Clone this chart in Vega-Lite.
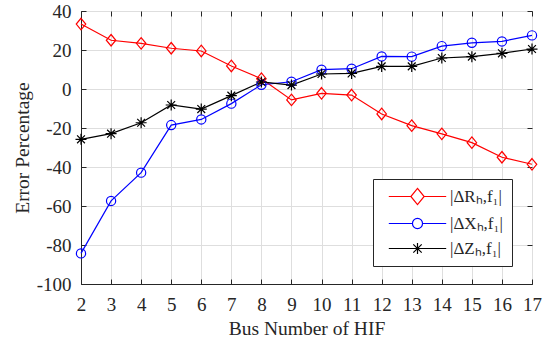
{
  "$schema": "https://vega.github.io/schema/vega-lite/v6.json",
  "width": 451,
  "height": 273,
  "autosize": "none",
  "padding": {"left": 81, "top": 11, "right": 16, "bottom": 57},
  "background": "white",
  "config": {
    "font": "Liberation Serif",
    "view": {"stroke": "#262626", "strokeWidth": 1},
    "axis": {
      "domainColor": "#262626",
      "domainWidth": 1,
      "ticks": true,
      "tickColor": "#262626",
      "tickSize": -5,
      "tickWidth": 1,
      "tickOpacity": 1,
      "labelFlush": false,
      "labelFont": "Liberation Serif",
      "labelFontSize": 19,
      "labelColor": "#262626",
      "labelExpr": "replace(datum.label, '−', '-')",
      "gridColor": "#dedede",
      "gridWidth": 1,
      "titleFont": "Liberation Serif",
      "titleFontSize": 19.5,
      "titleFontWeight": "normal",
      "titleColor": "#262626"
    },
    "legend": {
      "labelFont": "Liberation Serif",
      "labelFontSize": 17,
      "labelColor": "#262626"
    }
  },
  "data": {
    "values": [
      {"bus": 2, "series": "R", "value": 33.3},
      {"bus": 3, "series": "R", "value": 25.0},
      {"bus": 4, "series": "R", "value": 23.4},
      {"bus": 5, "series": "R", "value": 20.9},
      {"bus": 6, "series": "R", "value": 19.5},
      {"bus": 7, "series": "R", "value": 11.8},
      {"bus": 8, "series": "R", "value": 5.3},
      {"bus": 9, "series": "R", "value": -5.6},
      {"bus": 10, "series": "R", "value": -2.2},
      {"bus": 11, "series": "R", "value": -3.1},
      {"bus": 12, "series": "R", "value": -12.8},
      {"bus": 13, "series": "R", "value": -18.8},
      {"bus": 14, "series": "R", "value": -23.0},
      {"bus": 15, "series": "R", "value": -27.5},
      {"bus": 16, "series": "R", "value": -35.0},
      {"bus": 17, "series": "R", "value": -38.6},
      {"bus": 2, "series": "X", "value": -84.3},
      {"bus": 3, "series": "X", "value": -57.4},
      {"bus": 4, "series": "X", "value": -42.9},
      {"bus": 5, "series": "X", "value": -18.5},
      {"bus": 6, "series": "X", "value": -15.6},
      {"bus": 7, "series": "X", "value": -7.5},
      {"bus": 8, "series": "X", "value": 2.2},
      {"bus": 9, "series": "X", "value": 3.7},
      {"bus": 10, "series": "X", "value": 9.9},
      {"bus": 11, "series": "X", "value": 10.4},
      {"bus": 12, "series": "X", "value": 16.7},
      {"bus": 13, "series": "X", "value": 16.6},
      {"bus": 14, "series": "X", "value": 22.0},
      {"bus": 15, "series": "X", "value": 23.7},
      {"bus": 16, "series": "X", "value": 24.4},
      {"bus": 17, "series": "X", "value": 27.5},
      {"bus": 2, "series": "Z", "value": -25.8},
      {"bus": 3, "series": "Z", "value": -22.9},
      {"bus": 4, "series": "Z", "value": -17.3},
      {"bus": 5, "series": "Z", "value": -8.2},
      {"bus": 6, "series": "Z", "value": -10.3},
      {"bus": 7, "series": "Z", "value": -3.4},
      {"bus": 8, "series": "Z", "value": 3.6},
      {"bus": 9, "series": "Z", "value": 2.0},
      {"bus": 10, "series": "Z", "value": 7.7},
      {"bus": 11, "series": "Z", "value": 8.0},
      {"bus": 12, "series": "Z", "value": 11.6},
      {"bus": 13, "series": "Z", "value": 11.6},
      {"bus": 14, "series": "Z", "value": 15.9},
      {"bus": 15, "series": "Z", "value": 16.6},
      {"bus": 16, "series": "Z", "value": 18.3},
      {"bus": 17, "series": "Z", "value": 20.5}
    ]
  },
  "layer": [
    {
      "mark": {"type": "line", "strokeWidth": 1.2},
      "encoding": {
        "x": {
          "field": "bus", "type": "quantitative",
          "scale": {"domain": [2, 17], "nice": false, "zero": false},
          "axis": {"orient": "bottom", "values": [2,3,4,5,6,7,8,9,10,11,12,13,14,15,16,17], "format": "d", "title": "Bus Number of HIF", "titlePadding": 5, "labelPadding": 16, "ticks": true, "tickSize": -5}
        },
        "y": {
          "field": "value", "type": "quantitative",
          "scale": {"domain": [-100, 40], "nice": false, "zero": false},
          "axis": {"orient": "left", "values": [-100,-80,-60,-40,-20,0,20,40], "title": "Error Percentage", "titlePadding": 4, "labelPadding": 15, "ticks": true, "tickSize": -5}
        },
        "color": {
          "field": "series", "type": "nominal",
          "scale": {"domain": ["R", "X", "Z"], "range": ["#ff0000", "#0000ff", "#000000"]},
          "legend": {
            "title": null,
            "orient": "none",
            "legendX": 292,
            "legendY": 168,
            "strokeColor": "#262626",
            "fillColor": "white",
            "padding": 9,
            "rowPadding": 7,
            "symbolSize": 196,
            "symbolStrokeWidth": 1.2,
            "symbolType": "M-4.1,0L4.1,0",
            "symbolOffset": 27,
            "labelOffset": 24,
            "labelExpr": "datum.value === 'R' ? '|ΔRₕ,f₁|' : datum.value === 'X' ? '|ΔXₕ,f₁|' : '|ΔZₕ,f₁|'",
            "encode": {
              "symbols": {"update": {
                "shape": {"signal": "datum.value === 'R' ? 'M-4.1,0L-0.95,0M0.95,0L4.1,0M0,-1.15L0.95,0L0,1.15L-0.95,0Z' : datum.value === 'X' ? 'M-4.1,0L-0.72,0M0.72,0L4.1,0M-0.72,0C-0.72,-0.4 -0.4,-0.72 0,-0.72C0.4,-0.72 0.72,-0.4 0.72,0C0.72,0.4 0.4,0.72 0,0.72C-0.4,0.72 -0.72,0.4 -0.72,0Z' : 'M-4.1,0L4.1,0M0,-0.8L0,0.8M-0.6,-0.6L0.6,0.6M-0.6,0.6L0.6,-0.6'"},
                "fill": {"value": "transparent"}
              }}
            }
          }
        }
      }
    },
    {
      "transform": [{"filter": "datum.series === 'R'"}],
      "mark": {"type": "point", "shape": "M0,-1.15L0.95,0L0,1.15L-0.95,0Z", "size": 100, "filled": false, "strokeWidth": 1.2, "color": "#ff0000", "opacity": 1},
      "encoding": {
        "x": {"field": "bus", "type": "quantitative", "axis": null},
        "y": {"field": "value", "type": "quantitative", "axis": null}
      }
    },
    {
      "transform": [{"filter": "datum.series === 'X'"}],
      "mark": {"type": "point", "shape": "circle", "size": 85, "filled": false, "strokeWidth": 1.2, "color": "#0000ff", "opacity": 1},
      "encoding": {
        "x": {"field": "bus", "type": "quantitative", "axis": null},
        "y": {"field": "value", "type": "quantitative", "axis": null}
      }
    },
    {
      "transform": [{"filter": "datum.series === 'Z'"}],
      "mark": {"type": "point", "shape": "M-1.1,0L1.1,0M0,-1.1L0,1.1M-0.78,-0.78L0.78,0.78M-0.78,0.78L0.78,-0.78", "size": 100, "filled": false, "strokeWidth": 1.2, "color": "#000000", "opacity": 1},
      "encoding": {
        "x": {"field": "bus", "type": "quantitative", "axis": null},
        "y": {"field": "value", "type": "quantitative", "axis": null}
      }
    },
    {
      "mark": {"type": "rule", "strokeWidth": 0},
      "encoding": {
        "x": {"field": "bus", "type": "quantitative", "axis": {"orient": "top", "values": [2,3,4,5,6,7,8,9,10,11,12,13,14,15,16,17], "labels": false, "domain": false, "grid": false, "title": null, "ticks": true, "tickSize": -5}},
        "y": {"field": "value", "type": "quantitative", "axis": {"orient": "right", "values": [-100,-80,-60,-40,-20,0,20,40], "labels": false, "domain": false, "grid": false, "title": null, "ticks": true, "tickSize": -5}}
      }
    }
  ],
  "resolve": {"axis": {"x": "independent", "y": "independent"}}
}
